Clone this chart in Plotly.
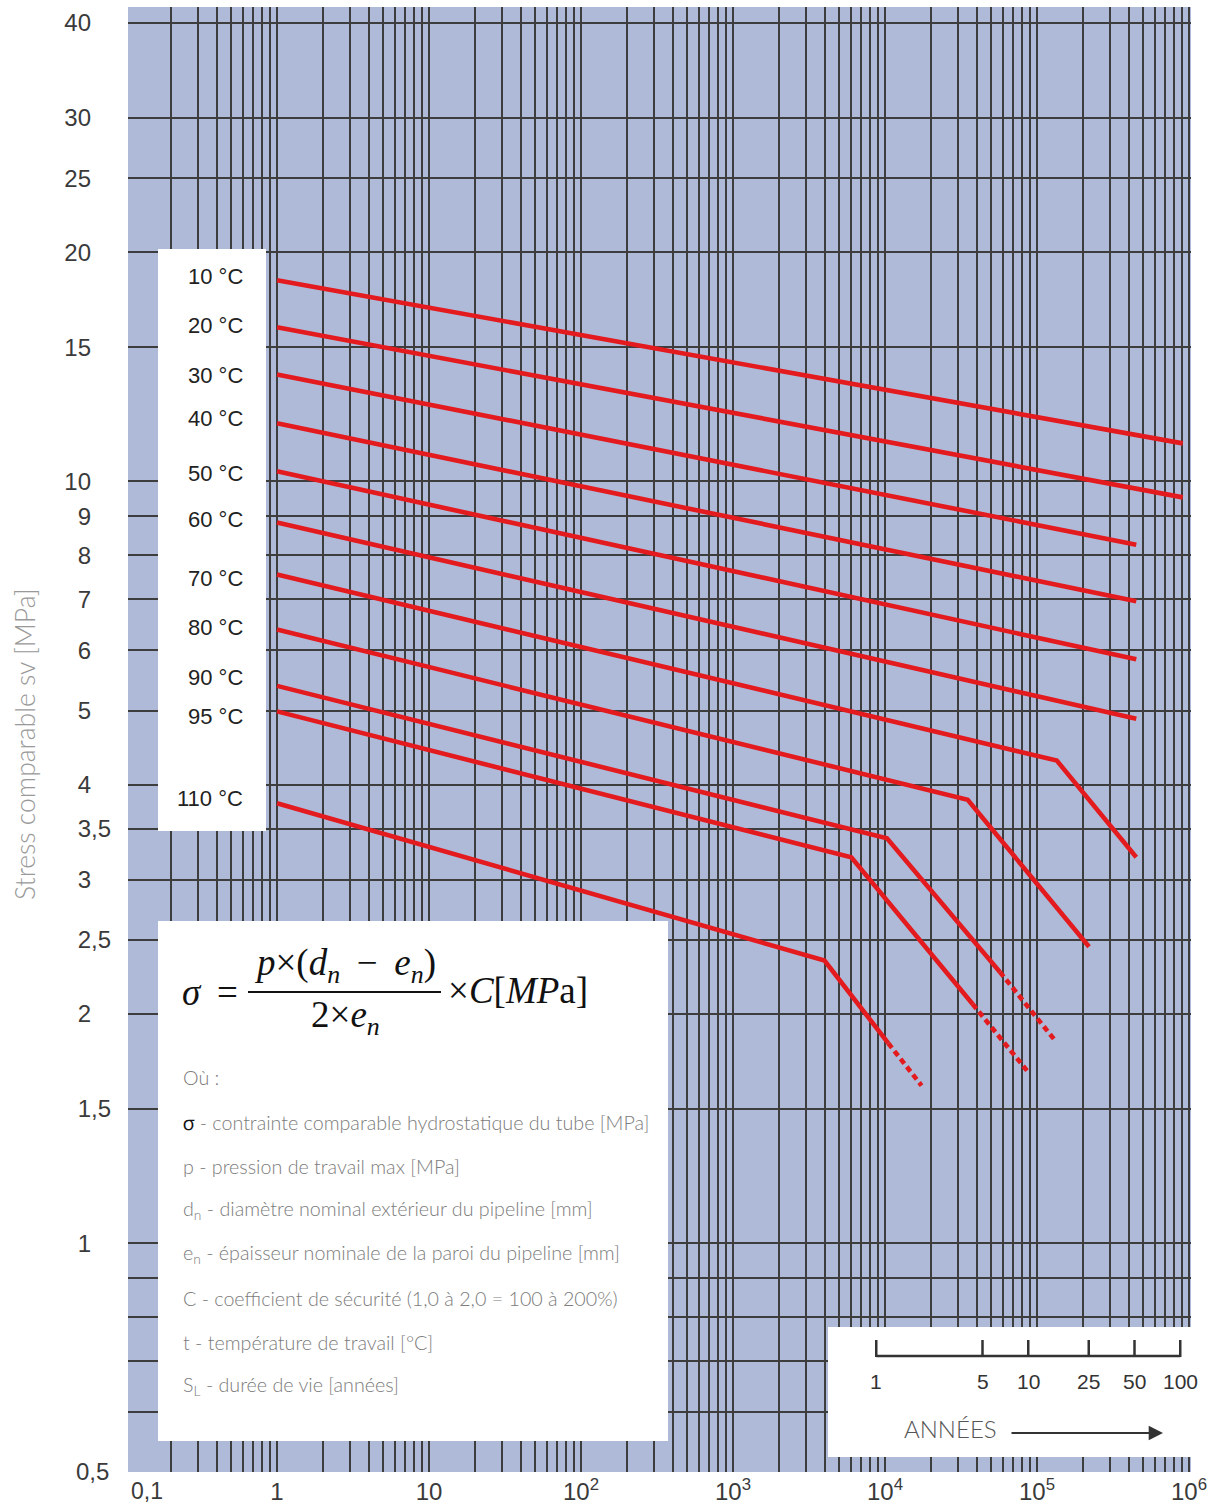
import math
import plotly.graph_objects as go

# ---------------- data ----------------
HOURS_PER_YEAR = 8760

temp_labels = ["10 °C", "20 °C", "30 °C", "40 °C", "50 °C", "60 °C",
               "70 °C", "80 °C", "90 °C", "95 °C", "110 °C"]

# time in hours, stress in MPa (solid part)
t10_h = [1, 9.1e5];            s10 = [18.37, 11.22]
t20_h = [1, 9.1e5];            s20 = [15.94, 9.53]
t30_h = [1, 4.5e5];            s30 = [13.82, 8.26]
t40_h = [1, 4.5e5];            s40 = [11.92, 6.96]
t50_h = [1, 4.5e5];            s50 = [10.31, 5.84]
t60_h = [1, 4.5e5];            s60 = [8.83, 4.88]
t70_h = [1, 1.35e5, 4.5e5];    s70 = [7.55, 4.30, 3.21]
t80_h = [1, 3.5e4, 2.2e5];     s80 = [6.39, 3.82, 2.45]
t90_h = [1, 1.03e4, 5.7e4];    s90 = [5.39, 3.40, 2.27]
t95_h = [1, 6.0e3, 3.77e4];    s95 = [4.99, 3.21, 2.06]
t110_h = [1, 4.0e3, 1.05e4];   s110 = [3.78, 2.35, 1.83]

# extrapolated (dashed) parts
t90_dash_h = [5.7e4, 1.33e5];   s90_dash = [2.27, 1.84]
t95_dash_h = [3.77e4, 8.9e4];   s95_dash = [2.06, 1.67]
t110_dash_h = [1.05e4, 1.74e4]; s110_dash = [1.83, 1.61]

# axis ticks
y_tick_vals = [0.6, 0.7, 0.8, 0.9, 1, 1.5, 2, 2.5, 3, 3.5, 4, 5, 6, 7, 8, 9,
               10, 15, 20, 25, 30, 40]
y_tick_text = ["", "", "", "", "1", "1,5", "2", "2,5", "3", "3,5", "4", "5",
               "6", "7", "8", "9", "10", "15", "20", "25", "30", "40"]
x_decades = [-1, 0, 1, 2, 3, 4, 5, 6]
x_decade_text = ["0,1", "1", "10", "10<sup>2</sup>", "10<sup>3</sup>",
                 "10<sup>4</sup>", "10<sup>5</sup>", "10<sup>6</sup>"]

# years scale
years_scale = [1, 5, 10, 25, 50, 100]
years_text = ["1", "5", "10", "25", "50", "100"]

# ---------------- layout helpers ----------------
W, H = 1222, 1505
L, R, T, B = 128, 1191, 7, 1472


def px(x):
    return (x - L) / (R - L)


def py(y):
    return (B - y) / (B - T)


Y_RANGE = [-0.3005, 1.6229]
X_RANGE = [-0.9803, 6.0132]

RED = "#E31B1F"
GRID = "#3d3d3d"
BG = "#AFBAD9"
NB = "\u00a0"
TH = "\u2009"
LIGHT = "Lato Light, Lato"
LW = 4.6

fig = go.Figure()

solid_series = [(t10_h, s10), (t20_h, s20), (t30_h, s30), (t40_h, s40),
                (t50_h, s50), (t60_h, s60), (t70_h, s70), (t80_h, s80),
                (t90_h, s90), (t95_h, s95), (t110_h, s110)]
for (xs, ys), name in zip(solid_series, temp_labels):
    fig.add_trace(go.Scatter(x=xs, y=ys, mode="lines", name=name,
                             line=dict(color=RED, width=LW),
                             showlegend=False, hoverinfo="skip"))
for xs, ys in [(t90_dash_h, s90_dash), (t95_dash_h, s95_dash),
               (t110_dash_h, s110_dash)]:
    fig.add_trace(go.Scatter(x=xs, y=ys, mode="lines",
                             line=dict(color=RED, width=LW, dash="6px,4px"),
                             showlegend=False, hoverinfo="skip"))

# ---------------- white boxes ----------------
boxes = [(158, 249, 266, 831), (158, 921, 668, 1441), (828, 1327, 1191, 1457)]
shapes = []
for x0, y0, x1, y1 in boxes:
    shapes.append(dict(type="rect", xref="paper", yref="paper",
                       x0=px(x0), x1=px(x1), y0=py(y1), y1=py(y0),
                       fillcolor="white", line=dict(width=0), layer="above"))
# fraction bar
shapes.append(dict(type="line", xref="paper", yref="paper",
                   x0=px(248), x1=px(441), y0=py(992), y1=py(992),
                   line=dict(color="#111111", width=2), layer="above"))

# years scale bar (aligned with the hours axis; shapes use data values on log axes)
hours_scale = [v * HOURS_PER_YEAR for v in years_scale]
SCALE = dict(color="#333333", width=2.5)
shapes.append(dict(type="line", xref="x", yref="paper",
                   x0=hours_scale[0], x1=hours_scale[-1],
                   y0=py(1356), y1=py(1356), line=SCALE, layer="above"))
for h in hours_scale:
    shapes.append(dict(type="line", xref="x", yref="paper", x0=h, x1=h,
                       y0=py(1357), y1=py(1340), line=SCALE, layer="above"))

annotations = []
# temperature labels
label_rows = [277, 326, 375, 418, 473, 519, 578, 627, 677, 716, 799]
for txt, row in zip(temp_labels, label_rows):
    annotations.append(dict(xref="paper", yref="paper", x=px(245), y=py(row),
                            text=txt, showarrow=False, xanchor="right",
                            yanchor="middle",
                            font=dict(family="Liberation Sans", size=22,
                                      color="#222222")))

# y axis title
annotations.append(dict(xref="paper", yref="paper", x=px(25), y=py(744),
                        text="Stress comparable sv [MPa]", textangle=-90,
                        showarrow=False, xanchor="center", yanchor="middle",
                        font=dict(family=LIGHT, size=26.5, color="#999999",
                                  weight=300)))

# edge tick labels
annotations.append(dict(xref="paper", yref="paper", x=px(147), y=py(1491),
                        text="0,1", showarrow=False, xanchor="center",
                        yanchor="middle",
                        font=dict(family="Liberation Sans", size=23,
                                  color="#3a3a3a")))
annotations.append(dict(xref="paper", yref="paper", x=px(92), y=py(1471),
                        text="0,5", showarrow=False, xanchor="center",
                        yanchor="middle",
                        font=dict(family="Liberation Sans", size=24,
                                  color="#3a3a3a")))

# formula
MATH = "Liberation Serif"
MF = dict(family=MATH, size=37, color="#111111")
annotations.append(dict(xref="paper", yref="paper", x=px(180), y=py(992),
                        text="<i>σ</i>" + NB + TH + "=", showarrow=False,
                        xanchor="left", yanchor="middle", font=MF))
annotations.append(dict(xref="paper", yref="paper", x=px(345), y=py(965),
                        text="<i>p</i>×(<i>d<sub>n</sub></i>" + NB + TH + "−"
                        + NB + TH + "<i>e<sub>n</sub></i>)",
                        showarrow=False, xanchor="center", yanchor="middle",
                        font=MF))
annotations.append(dict(xref="paper", yref="paper", x=px(345), y=py(1017),
                        text="2×<i>e<sub>n</sub></i>",
                        showarrow=False, xanchor="center", yanchor="middle",
                        font=MF))
annotations.append(dict(xref="paper", yref="paper", x=px(446), y=py(990),
                        text="×<i>C</i>[<i>MP</i>a]",
                        showarrow=False, xanchor="left", yanchor="middle",
                        font=MF))

legend_lines = [
    "Où :",
    "<b><span style='color:#111'>σ</span></b> - contrainte comparable hydrostatique du tube [MPa]",
    "p - pression de travail max [MPa]",
    "d<sub>n</sub> - diamètre nominal extérieur du pipeline [mm]",
    "e<sub>n</sub> - épaisseur nominale de la paroi du pipeline [mm]",
    "C - coefficient de sécurité (1,0 à 2,0 = 100 à 200%)",
    "t - température de travail [°C]",
    "S<sub>L</sub> - durée de vie [années]",
]
line_rows = [1077, 1122, 1166, 1210, 1254, 1298, 1342, 1386]
for txt, row in zip(legend_lines, line_rows):
    annotations.append(dict(xref="paper", yref="paper", x=px(181), y=py(row),
                            text=txt, showarrow=False, xanchor="left",
                            yanchor="middle",
                            font=dict(family=LIGHT, size=19.7, color="#7c7c7c",
                                      weight=300)))

# years scale labels (annotations on log axes take log10 values)
for h, txt in zip(hours_scale, years_text):
    annotations.append(dict(xref="x", yref="paper", x=math.log10(h),
                            y=py(1381), text=txt, showarrow=False,
                            xanchor="center", yanchor="middle",
                            font=dict(family="Liberation Sans", size=21,
                                      color="#333333")))
annotations.append(dict(xref="paper", yref="paper", x=px(950), y=py(1428),
                        text="ANNÉES", showarrow=False, xanchor="center",
                        yanchor="middle",
                        font=dict(family=LIGHT, size=24, color="#555555",
                                  weight=300)))
annotations.append(dict(xref="paper", yref="paper", axref="pixel", ayref="pixel",
                        x=px(1163), y=py(1433), ax=-153, ay=0, text="",
                        showarrow=True, arrowhead=2, arrowsize=1.3,
                        arrowwidth=2.2, arrowcolor="#333333"))

# x ticks: every 1..9 x 10^d for minor grid, labels only at decades
x_tick_vals, x_tick_text = [], []
for d, lab in zip(x_decades, x_decade_text):
    for k in range(1, 10):
        if d == 6 and k > 1:
            break
        x_tick_vals.append(k * 10 ** d)
        x_tick_text.append(lab if (k == 1 and d > -1) else "")

y_text_padded = [t + NB * 3 if ("," not in t and t) else t for t in y_tick_text]

fig.update_layout(
    template="none",
    width=W, height=H,
    margin=dict(l=L, r=W - R, t=T, b=H - B, pad=0),
    paper_bgcolor="white", plot_bgcolor=BG,
    shapes=shapes, annotations=annotations, showlegend=False,
    xaxis=dict(type="log", range=X_RANGE, tickvals=x_tick_vals,
               ticktext=x_tick_text, showgrid=True, gridcolor=GRID,
               gridwidth=1.5, zeroline=False, showline=False, ticks="",
               automargin=False,
               tickfont=dict(family="Liberation Sans", size=24, color="#3a3a3a"),
               ticklabelstandoff=3),
    yaxis=dict(type="log", range=Y_RANGE, tickvals=y_tick_vals,
               ticktext=y_text_padded, showgrid=True, gridcolor=GRID,
               gridwidth=1.5, zeroline=False, showline=False, ticks="",
               automargin=False,
               tickfont=dict(family="Liberation Sans", size=24, color="#3a3a3a"),
               ticklabelstandoff=16),
)

post = """
document.body.style.margin='0px';
document.documentElement.style.overflow='hidden';
document.body.style.overflow='hidden';
"""
fig.write_html("out.html", post_script=post,
               config={"displayModeBar": False})
